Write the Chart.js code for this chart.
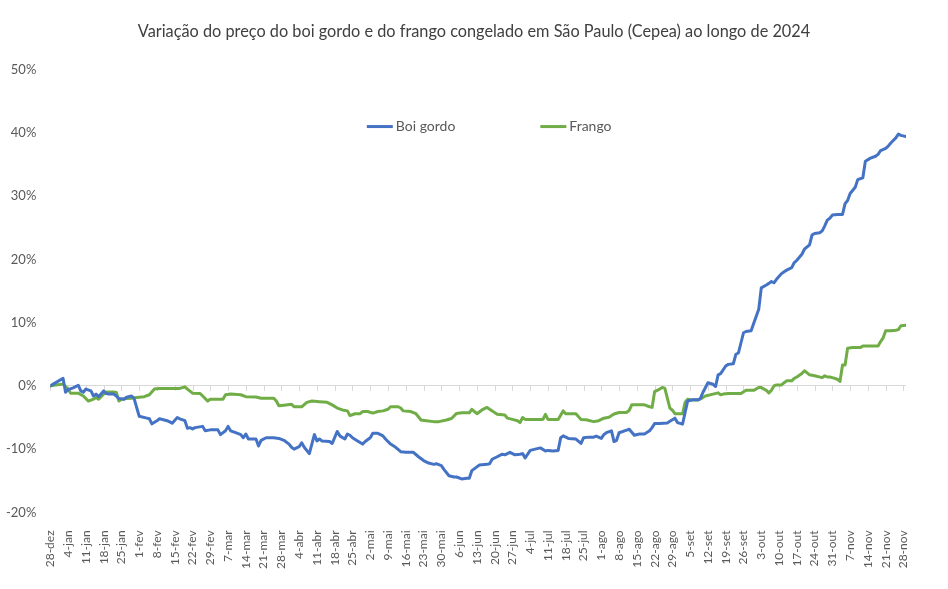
<!DOCTYPE html>
<html>
<head>
<meta charset="utf-8">
<script src="https://cdn.jsdelivr.net/npm/chart.js@4.4.1/dist/chart.umd.min.js"></script>
<style>
  html, body { margin: 0; padding: 0; background: #fff; }
  #wrap { width: 948px; height: 589px; }
</style>
</head>
<body>
<div id="wrap"><canvas id="grafico"></canvas></div>
<script>
// rótulos semanais do eixo x (dia 0 = 28-dez-2023)
var rotulos = ["28-dez","4-jan","11-jan","18-jan","25-jan","1-fev","8-fev","15-fev","22-fev","29-fev",
  "7-mar","14-mar","21-mar","28-mar","4-abr","11-abr","18-abr","25-abr","2-mai","9-mai","16-mai",
  "23-mai","30-mai","6-jun","13-jun","20-jun","27-jun","4-jul","11-jul","18-jul","25-jul","1-ago",
  "8-ago","15-ago","22-ago","29-ago","5-set","12-set","19-set","26-set","3-out","10-out","17-out",
  "24-out","31-out","7-nov","14-nov","21-nov","28-nov"];

var yTicks = [-20, -10, 0, 10, 20, 30, 40, 50];

// Boi gordo: dias desde 28-dez e variação (%)
var boiDias = [0,5,6,7,9,11,12,13,14,16,17,18,19,21,22,23,25,26,27,29,30,32,33,35,38,39,40,42,43,46,48,50,51,53,54,55,56,57,60,61,63,66,67,69,70,71,73,75,76,77,78,81,82,83,85,88,90,92,94,95,96,98,99,100,102,104,105,106,107,110,111,113,114,116,117,118,119,121,123,124,126,127,129,131,132,134,136,138,140,143,145,147,149,151,152,154,155,157,159,160,162,164,165,166,168,169,172,173,174,176,178,179,181,182,183,185,186,187,189,191,193,195,196,198,200,201,202,204,207,209,210,212,214,215,217,218,219,221,222,223,224,227,228,230,232,234,236,237,238,240,243,244,246,247,249,250,251,253,255,256,257,259,261,262,263,264,266,267,269,270,271,273,274,276,277,279,280,282,283,284,285,286,288,289,290,292,293,294,296,297,299,300,301,303,304,305,306,307,308,310,312,313,314,315,317,318,320,321,323,325,326,327,329,330,331,333,334,335,337];
var boiValores = [0,1.2,-1.0,-0.6,-0.3,0.1,-0.8,-1.0,-0.5,-0.8,-1.6,-1.3,-1.7,-0.8,-1.2,-1.3,-1.3,-1.6,-2.0,-2.1,-1.8,-1.6,-2.0,-4.8,-5.1,-5.2,-6.0,-5.5,-5.2,-5.5,-5.9,-5.0,-5.2,-5.5,-6.7,-6.6,-6.8,-6.6,-6.4,-7.1,-6.95,-6.95,-7.7,-7.1,-6.4,-7.1,-7.4,-7.7,-8.2,-7.6,-8.4,-8.4,-9.5,-8.6,-8.2,-8.2,-8.3,-8.6,-9.2,-9.7,-10.0,-9.6,-9.0,-9.7,-10.7,-7.7,-8.7,-8.4,-8.7,-8.8,-9.1,-7.2,-7.9,-8.4,-7.6,-7.8,-8.2,-8.7,-9.2,-8.8,-8.2,-7.5,-7.5,-7.9,-8.4,-9.2,-9.7,-10.4,-10.5,-10.5,-11.2,-11.8,-12.2,-12.4,-12.3,-12.6,-13.2,-14.2,-14.4,-14.4,-14.7,-14.6,-14.6,-13.4,-12.8,-12.5,-12.4,-12.3,-11.6,-11.2,-10.8,-10.9,-10.5,-10.7,-10.9,-10.8,-10.7,-11.4,-10.2,-10.0,-9.8,-10.3,-10.2,-10.3,-10.2,-8.2,-7.9,-8.3,-8.4,-9.1,-8.2,-8.1,-8.1,-7.95,-8.3,-7.7,-7.4,-7.1,-8.8,-8.6,-7.4,-7.0,-6.85,-7.8,-7.6,-7.6,-7.1,-6.6,-5.95,-5.95,-5.85,-5.6,-5.1,-5.8,-6.05,-4.2,-2.4,-2.2,-2.2,-2.0,-1.05,0.5,0.25,-0.1,1.75,1.95,3.15,3.4,3.5,5.0,5.2,8.4,8.6,8.7,9.85,12.1,15.5,15.95,16.2,16.5,16.3,16.85,17.75,18.05,18.3,18.7,19.5,19.85,20.8,21.6,22.3,23.85,24.1,24.2,24.5,25.3,26.2,26.5,27.0,27.1,27.1,28.8,29.3,30.4,31.4,32.6,32.9,35.5,36.0,36.3,36.6,37.2,37.55,37.9,38.4,39.2,39.8,39.6,39.4];

// Frango congelado
var frangoDias = [0,5,7,8,11,13,15,17,18,19,21,22,25,26,27,28,30,32,34,37,39,41,43,51,53,54,56,59,60,62,63,68,69,71,75,77,81,83,88,89,90,92,95,96,99,101,103,106,109,111,113,115,117,118,120,122,123,125,127,129,131,133,134,137,138,139,142,144,146,148,151,153,156,158,160,162,165,166,168,170,172,173,174,176,179,180,182,184,185,186,187,194,195,196,200,202,203,207,209,211,214,216,218,220,222,224,227,228,229,231,234,236,237,238,240,241,242,244,245,246,249,250,251,253,255,257,258,261,263,264,265,267,272,274,277,279,280,282,283,284,285,286,288,289,290,292,293,294,296,297,299,301,304,305,306,307,308,310,311,312,313,314,316,319,320,326,327,328,329,331,333,334,335,337];
var frangoValores = [0,0.3,-0.5,-1.15,-1.15,-1.6,-2.4,-2.1,-1.85,-2.1,-1.3,-0.95,-0.95,-1.05,-2.4,-2.1,-2.0,-1.95,-1.85,-1.7,-1.4,-0.5,-0.4,-0.4,-0.15,-0.5,-1.15,-1.2,-1.6,-2.4,-2.1,-2.1,-1.4,-1.3,-1.4,-1.7,-1.75,-1.95,-1.95,-2.4,-3.15,-3.05,-2.9,-3.3,-3.3,-2.6,-2.4,-2.5,-2.6,-3.0,-3.5,-3.8,-3.95,-4.7,-4.4,-4.4,-4.05,-4.05,-4.3,-4.05,-3.95,-3.7,-3.3,-3.3,-3.5,-3.95,-4.05,-4.4,-5.4,-5.5,-5.65,-5.65,-5.4,-5.15,-4.35,-4.25,-4.25,-3.7,-4.4,-3.8,-3.4,-3.7,-3.95,-4.5,-4.6,-5.1,-5.3,-5.5,-5.8,-5.0,-5.3,-5.3,-4.5,-5.3,-5.3,-3.95,-4.4,-4.4,-5.3,-5.35,-5.65,-5.5,-5.1,-4.95,-4.45,-4.2,-4.2,-3.85,-3.0,-3.0,-3.0,-3.3,-3.4,-0.9,-0.5,-0.25,-0.35,-3.5,-3.85,-4.4,-4.4,-2.6,-2.1,-2.25,-2.25,-1.85,-1.6,-1.3,-1.1,-1.4,-1.3,-1.2,-1.2,-0.7,-0.7,-0.25,-0.25,-0.7,-1.1,-0.7,0,0.15,0.15,0.5,0.8,0.8,1.2,1.4,1.95,2.4,1.75,1.6,1.3,1.6,1.4,1.4,1.3,1.05,0.7,3.3,3.3,5.95,6.05,6.05,6.3,6.3,7.0,7.6,8.7,8.7,8.8,8.9,9.5,9.6];

function pontos(dias, valores) {
  return dias.map(function (d, i) { return { x: d, y: valores[i] }; });
}

var cinza = "#595959";
var fonte = "Lato, 'Open Sans', sans-serif";

// pequenas marcas semanais sobre a linha do zero
var marcasZero = {
  id: "marcasZero",
  beforeDatasetsDraw: function (chart) {
    var x = chart.scales.x, y = chart.scales.y, ctx = chart.ctx;
    var y0 = y.getPixelForValue(0);
    ctx.save();
    ctx.strokeStyle = "#d9d9d9";
    ctx.lineWidth = 1;
    x.ticks.forEach(function (t) {
      var px = Math.round(x.getPixelForValue(t.value)) + 0.5;
      ctx.beginPath();
      ctx.moveTo(px, y0);
      ctx.lineTo(px, y0 + 5);
      ctx.stroke();
    });
    ctx.restore();
  }
};

// legenda desenhada dentro da área do gráfico, como no Excel
var legendaInterna = {
  id: "legendaInterna",
  afterLayout: function (chart) {
    // centraliza o título na largura total da página
    var t = chart.titleBlock;
    var dx = (chart.width / 2) - (t.left + t.right) / 2;
    t.left += dx; t.right += dx;
  },
  afterDatasetsDraw: function (chart) {
    var ctx = chart.ctx, area = chart.chartArea;
    var ds = chart.data.datasets;
    var traco = 26, folga = 3, espaco = 85;
    ctx.save();
    ctx.font = "14px " + fonte;
    ctx.textBaseline = "middle";
    var larguras = ds.map(function (d) { return traco + folga + ctx.measureText(d.label).width; });
    var total = larguras.reduce(function (a, b) { return a + b; }, 0) + espaco * (ds.length - 1);
    var x = (area.left + area.right) / 2 + 11 - total / 2;
    var y = area.top + 57;
    ds.forEach(function (d, i) {
      ctx.strokeStyle = d.borderColor;
      ctx.lineWidth = 3;
      ctx.beginPath();
      ctx.moveTo(x, y);
      ctx.lineTo(x + traco, y);
      ctx.stroke();
      ctx.fillStyle = cinza;
      ctx.fillText(d.label, x + traco + folga, y);
      x += larguras[i] + espaco;
    });
    ctx.restore();
  }
};

new Chart(document.getElementById("grafico"), {
  type: "line",
  data: {
    datasets: [{
      label: "Boi gordo",
      data: pontos(boiDias, boiValores),
      borderColor: "#4472C4",
      backgroundColor: "#4472C4",
      borderWidth: 3,
      pointRadius: 0,
      tension: 0,
      borderJoinStyle: "round",
      borderCapStyle: "round"
    }, {
      label: "Frango",
      data: pontos(frangoDias, frangoValores),
      borderColor: "#70AD47",
      backgroundColor: "#70AD47",
      borderWidth: 3,
      pointRadius: 0,
      tension: 0,
      borderJoinStyle: "round",
      borderCapStyle: "round"
    }]
  },
  options: {
    responsive: true,
    maintainAspectRatio: false,
    animation: false,
    layout: { padding: { left: -8, right: 42, top: 0, bottom: 10 } },
    plugins: {
      title: {
        display: true,
        text: "Variação do preço do boi gordo e do frango congelado em São Paulo (Cepea) ao longo de 2024",
        color: "#404040",
        font: { family: fonte, size: 16.3, weight: "normal" },
        padding: { top: 22, bottom: 28 }
      },
      legend: { display: false },
      tooltip: { enabled: false }
    },
    scales: {
      x: {
        type: "linear",
        min: 0,
        max: 337,
        grid: { display: false },
        border: { display: false },
        ticks: {
          stepSize: 7,
          includeBounds: false,
          autoSkip: false,
          minRotation: 90,
          maxRotation: 90,
          padding: 10,
          color: cinza,
          font: { family: fonte, size: 12 },
          callback: function (v) { return rotulos[v / 7]; }
        }
      },
      y: {
        min: yTicks[0],
        max: yTicks[yTicks.length - 1],
        border: { display: false },
        grid: {
          drawTicks: false,
          color: function (c) { return c.tick && c.tick.value === 0 ? "#d9d9d9" : "rgba(0,0,0,0)"; },
          lineWidth: 1
        },
        afterBuildTicks: function (s) { s.ticks = yTicks.map(function (v) { return { value: v }; }); },
        ticks: {
          padding: 14,
          color: cinza,
          font: { family: fonte, size: 13 },
          callback: function (v) { return v + "%"; }
        }
      }
    }
  },
  plugins: [marcasZero, legendaInterna]
});
</script>
</body>
</html>
